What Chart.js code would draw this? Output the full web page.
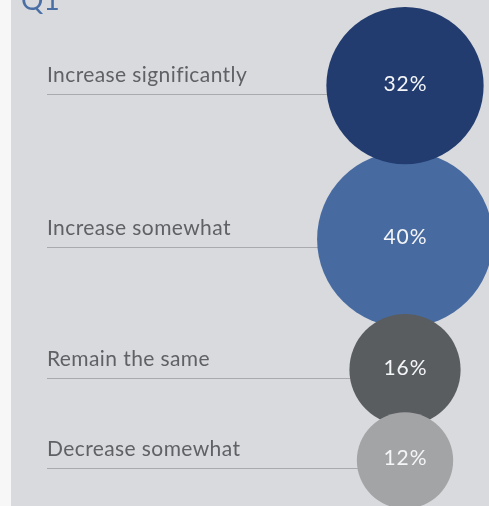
<!DOCTYPE html>
<html>
<head>
<meta charset="utf-8">
<script src="https://cdn.jsdelivr.net/npm/chart.js@4/dist/chart.umd.min.js"></script>
<style>
  html, body { margin: 0; padding: 0; background: #f7f7f7; }
  #wrap { width: 489px; height: 506px; position: relative; }
</style>
</head>
<body>
<div id="wrap"><canvas id="c" width="489" height="506"></canvas></div>
<script>
// ---- data ----
const title = "Q1";
const categories = ["Increase significantly", "Increase somewhat", "Remain the same", "Decrease somewhat"];
const values = [32, 40, 16, 12];
const colors = ["#223c6f", "#476ba1", "#5a5d60", "#a3a4a6"];
const drawOrder = [1, 2, 1, 0];

// ---- layout (derived from the data) ----
const W = 489, H = 506;
const COLUMN_X = 405;       // centre line of the bubble column
const RADIUS_K = 13.9;      // px per sqrt(percent)
const TOP = 7;              // top edge of the first bubble
const OVERLAP = 13;         // overlap between consecutive bubbles
const radii = values.map(v => RADIUS_K * Math.sqrt(v));
const centersY = [];
radii.forEach((r, i) => {
  if (i === 0) centersY.push(TOP + r);
  else centersY.push(centersY[i - 1] + radii[i - 1] + r - OVERLAP);
});
const R_MAX = Math.max(...radii);   // Chart.js insets the chart area by the largest radius

const datasets = categories.map((c, i) => ({
  label: c,
  data: [{ x: COLUMN_X, y: centersY[i], r: radii[i] }],
  backgroundColor: colors[i],
  borderWidth: 0,
  hoverBorderWidth: 0,
  order: drawOrder[i],
  clip: false
}));

const FONT = "Lato, 'Open Sans', sans-serif";

const decor = {
  id: 'decor',
  beforeDraw(chart) {
    const ctx = chart.ctx;
    ctx.save();
    ctx.fillStyle = '#f7f7f7';
    ctx.fillRect(0, 0, chart.width, chart.height);
    ctx.fillStyle = '#d9dadd';
    ctx.fillRect(11, 0, chart.width - 11, chart.height);
    ctx.fillStyle = '#4a6fa5';
    ctx.font = "28px " + FONT;
    ctx.textBaseline = 'alphabetic';
    ctx.textAlign = 'left';
    ctx.fillText(title, 21, 10);
    ctx.restore();
  },
  beforeDatasetsDraw(chart) {
    const ctx = chart.ctx;
    ctx.save();
    categories.forEach((c, i) => {
      const el = chart.getDatasetMeta(i).data[0];
      const ly = Math.round(el.y + 8) + 0.5;
      ctx.strokeStyle = '#a9aaad';
      ctx.lineWidth = 1;
      ctx.beginPath();
      ctx.moveTo(47, ly);
      ctx.lineTo(el.x, ly);
      ctx.stroke();
      ctx.fillStyle = '#5f6166';
      ctx.font = "21px " + FONT;
      ctx.letterSpacing = '0.4px';
      ctx.textAlign = 'left';
      ctx.textBaseline = 'alphabetic';
      ctx.fillText(c, 47, ly - 12.5);
    });
    ctx.restore();
  },
  afterDatasetsDraw(chart) {
    const ctx = chart.ctx;
    ctx.save();
    values.forEach((v, i) => {
      const el = chart.getDatasetMeta(i).data[0];
      ctx.fillStyle = '#f4f5f7';
      ctx.font = "21px " + FONT;
      ctx.letterSpacing = '1px';
      ctx.textAlign = 'center';
      ctx.textBaseline = 'alphabetic';
      ctx.fillText(v + '%', el.x + 0.5, el.y + 5);
    });
    ctx.restore();
  }
};

new Chart(document.getElementById('c'), {
  type: 'bubble',
  data: { datasets },
  options: {
    responsive: false,
    animation: false,
    events: [],
    layout: { padding: 0 },
    plugins: { legend: { display: false }, tooltip: { enabled: false } },
    scales: {
      x: { type: 'linear', min: R_MAX, max: W - R_MAX, display: false },
      y: { type: 'linear', min: R_MAX, max: H - R_MAX, reverse: true, display: false }
    }
  },
  plugins: [decor]
});
</script>
</body>
</html>
